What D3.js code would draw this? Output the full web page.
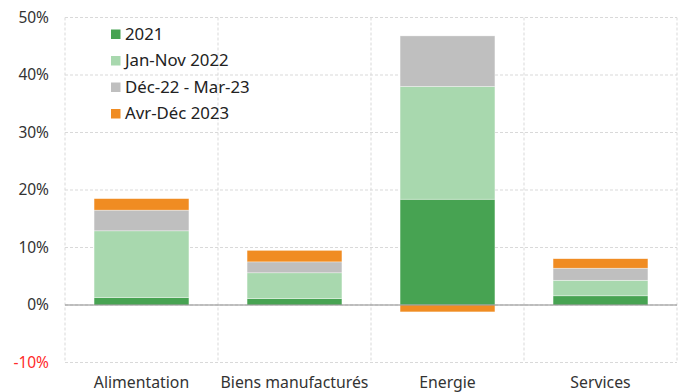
<!DOCTYPE html>
<html><head><meta charset="utf-8">
<script src="https://cdn.jsdelivr.net/npm/d3@7"></script>
<style>body{margin:0;background:#fff}svg{display:block}text{font-family:"Noto Sans",sans-serif}</style>
</head><body><svg id="c" width="683" height="392"></svg>
<script>
const categories = ["Alimentation", "Biens manufacturés", "Energie", "Services"];
const seriesNames = ["2021", "Jan-Nov 2022", "Déc-22 - Mar-23", "Avr-Déc 2023"];
const s2021 = [1.3, 1.1, 18.4, 1.6];
const sJanNov22 = [11.6, 4.5, 19.6, 2.7];
const sDec22Mar23 = [3.6, 1.9, 8.8, 2.1];
const sAvrDec23 = [2.0, 2.0, -1.2, 1.65];
const yTicks = [-10, 0, 10, 20, 30, 40, 50];
const colors = ["#47a352", "#a8d8ae", "#bfbfbf", "#f08c22"];

const seriesValues = [s2021, sJanNov22, sDec22Mar23, sAvrDec23];
const svg = d3.select("#c");
const m = {l: 65, r: 6, t: 17.5, b: 29.5};
const W = 683, H = 392;
const x = d3.scaleBand().domain(categories).range([m.l, W - m.r]).paddingInner(0).paddingOuter(0);
const y = d3.scaleLinear().domain([-10, 50]).range([H - m.b, m.t]);

// grid
const g = svg.append("g");
g.selectAll("line.h").data(yTicks).join("line")
  .attr("x1", m.l).attr("x2", W - m.r).attr("y1", d => y(d)).attr("y2", d => y(d))
  .attr("stroke", "#d9d9d9").attr("stroke-dasharray", "3,2").attr("stroke-width", 1);
const vx = categories.map(c => x(c)).concat([W - m.r]);
g.selectAll("line.v").data(vx).join("line")
  .attr("x1", d => d).attr("x2", d => d).attr("y1", m.t).attr("y2", H - m.b)
  .attr("stroke", "#d9d9d9").attr("stroke-dasharray", "3,2").attr("stroke-width", 1);

// stacks (positive and negative separately)
const bw = x.bandwidth() * 0.62;
categories.forEach((c, i) => {
  let pos = 0, neg = 0;
  seriesValues.forEach((arr, k) => {
    const v = arr[i];
    let y0, y1;
    if (v >= 0) { y0 = pos; y1 = pos + v; pos = y1; } else { y0 = neg + v; y1 = neg; neg = y0; }
    svg.append("rect")
      .attr("x", x(c) + (x.bandwidth() - bw) / 2)
      .attr("width", bw)
      .attr("y", y(y1)).attr("height", y(y0) - y(y1))
      .attr("fill", colors[k]).attr("stroke", "#fff").attr("stroke-opacity", 0.6).attr("stroke-width", 0.6);
  });
});

// zero line
svg.append("line").attr("x1", m.l).attr("x2", W - m.r).attr("y1", y(0)).attr("y2", y(0))
  .attr("stroke", "#8c8c8c").attr("stroke-width", 1.2);

// y tick labels
svg.selectAll("text.yt").data(yTicks).join("text")
  .attr("x", 49).attr("y", d => y(d)).attr("dy", "0.35em")
  .attr("text-anchor", "end").attr("font-size", 15.5)
  .attr("fill", d => d < 0 ? "#ff2a2a" : "#333")
  .text(d => d + "%");

// x labels
svg.selectAll("text.xt").data(categories).join("text")
  .attr("x", d => x(d) + x.bandwidth() / 2).attr("y", 388)
  .attr("text-anchor", "middle").attr("font-size", 15.8).attr("fill", "#333")
  .text(d => d);

// legend
const lg = svg.append("g");
seriesNames.forEach((n, k) => {
  const cy = 34 + k * 26.5;
  lg.append("rect").attr("x", 111).attr("y", cy - 4.5).attr("width", 9.5).attr("height", 9.5).attr("fill", colors[k]);
  lg.append("text").attr("x", 125).attr("y", cy).attr("dy", "0.35em").attr("font-size", 16.8).attr("fill", "#222").text(n);
});
</script></body></html>
